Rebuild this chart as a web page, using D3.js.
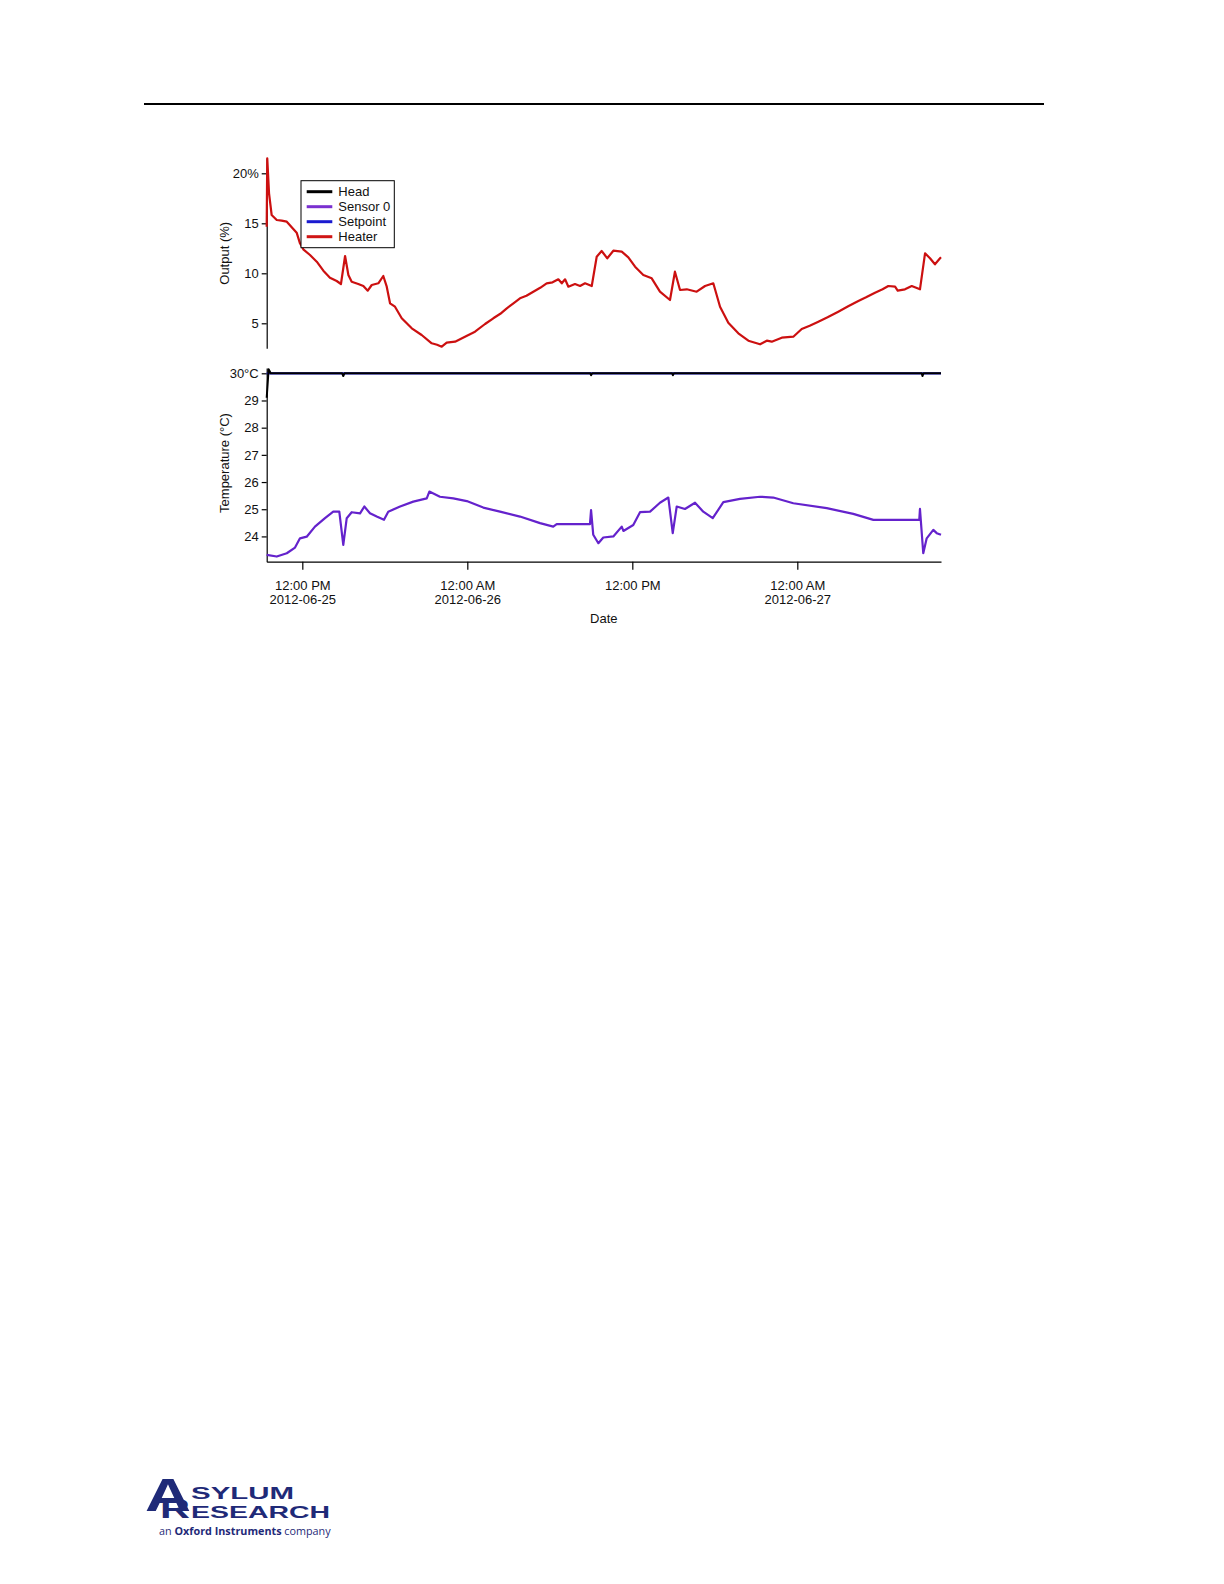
<!DOCTYPE html>
<html><head><meta charset="utf-8">
<script src="https://cdn.jsdelivr.net/npm/d3@7"></script>
<style>body{margin:0;background:#fff}svg{display:block}</style>
</head><body>
<svg id="c" width="1224" height="1584"></svg>
<script>
// time values: hours since 2012-06-25 00:00
const heaterHours=[9.41,9.45,9.58,9.77,10.14,10.50,10.87,11.23,11.59,11.83,12.07,12.56,13.05,13.53,14.01,14.50,14.81,15.11,15.35,15.59,16.07,16.44,16.76,17.05,17.53,17.89,18.14,18.38,18.74,19.23,19.96,20.68,21.41,21.80,22.14,22.50,23.11,23.83,24.56,25.29,25.89,26.40,26.87,27.40,27.83,28.30,28.80,29.30,29.77,30.20,30.62,30.87,31.11,31.35,31.83,32.20,32.56,33.05,33.41,33.77,34.18,34.62,35.23,35.71,36.20,36.80,37.41,38.01,38.74,39.10,39.47,39.96,40.68,41.29,41.89,42.38,42.98,43.71,44.44,45.29,45.78,46.14,46.87,47.71,48.32,48.90,49.53,50.20,50.98,51.70,52.44,53.00,53.65,54.20,54.62,55.11,55.30,55.83,56.32,56.92,57.29,57.65,58.01,58.38,58.45];
const heaterValues=[14.66,21.5,18.0,15.83,15.33,15.26,15.16,14.6,14.06,13.0,12.4,11.83,11.16,10.26,9.56,9.23,8.93,11.73,9.83,9.16,8.93,8.73,8.26,8.83,9.0,9.73,8.66,7.0,6.66,5.5,4.5,3.83,3.0,2.85,2.66,3.06,3.16,3.66,4.16,4.93,5.5,5.95,6.5,7.05,7.5,7.75,8.16,8.55,9.0,9.1,9.4,9.0,9.4,8.66,8.93,8.73,9.0,8.73,11.66,12.23,11.5,12.26,12.16,11.6,10.66,9.83,9.5,8.16,7.33,10.16,8.33,8.4,8.16,8.73,9.0,6.66,5.06,4.0,3.26,2.9,3.26,3.16,3.56,3.66,4.43,4.75,5.16,5.6,6.16,6.7,7.23,7.6,8.06,8.4,8.73,8.66,8.26,8.4,8.73,8.4,12.0,11.5,10.9,11.5,11.6];

const sensorHours=[9.41,10.14,10.87,11.47,11.83,12.32,12.92,13.65,14.25,14.69,14.98,15.23,15.59,16.20,16.51,16.92,17.41,17.94,18.25,19.11,20.07,21.05,21.24,22.01,22.98,23.96,25.16,26.38,27.83,29.29,30.25,30.50,32.20,32.92,33.00,33.16,33.53,33.89,34.62,35.23,35.35,36.07,36.56,37.29,38.01,38.62,38.94,39.23,39.83,40.56,41.16,41.85,42.62,43.83,45.29,46.25,47.71,50.14,52.07,53.53,54.98,56.87,56.92,57.16,57.41,57.89,58.14,58.45];
const sensorValues=[23.32,23.26,23.38,23.59,23.93,23.99,24.36,24.67,24.91,24.91,23.69,24.67,24.89,24.85,25.10,24.85,24.73,24.61,24.91,25.10,25.28,25.40,25.65,25.46,25.40,25.30,25.06,24.91,24.73,24.49,24.36,24.45,24.45,24.45,24.97,24.06,23.75,23.96,24.00,24.36,24.20,24.42,24.89,24.91,25.24,25.43,24.12,25.10,25.01,25.24,24.91,24.67,25.26,25.38,25.46,25.43,25.22,25.04,24.83,24.61,24.61,24.61,25.01,23.38,23.93,24.24,24.12,24.06];

const headHours=[9.41,9.55,9.70,14.90,14.98,15.06,32.95,33.00,33.08,38.90,38.95,39.02,57.05,57.10,57.18,58.45];
const headValues=[29.1,30.15,30.0,30.0,29.9,30.0,30.0,29.93,30.0,30.0,29.93,30.0,30.0,29.9,30.0,30.0];

const setpointHours=[9.41,58.45];
const setpointValues=[30,30];

const xTickHours=[12,24,36,48];
const outputTicks=[5,10,15,20];
const tempTicks=[24,25,26,27,28,29,30];
const legendNames=["Head","Sensor 0","Setpoint","Heater"];
const legendColors=["#000000","#7a30d0","#1a1ad0","#d01515"];

const base=new Date(2012,5,25,0,0,0);
const toDate=h=>new Date(base.getTime()+h*3600000);

const svg=d3.select("#c");
const font="'Liberation Sans', Arial, sans-serif";

// header rule
svg.append("line").attr("x1",144).attr("x2",1044).attr("y1",104).attr("y2",104)
  .attr("stroke","#000").attr("stroke-width",2);

const x=d3.scaleTime().domain([toDate(9.41),toDate(58.45)]).range([266.7,941]);
const yTop=d3.scaleLinear().domain([2.5,21.5]).range([348.3,158.3]);
const yBot=d3.scaleLinear().domain([23.07,30.195]).range([561.7,368]);

function styleAxis(g){
  g.selectAll("path.domain").attr("stroke","#000").attr("stroke-width",1.2);
  g.selectAll(".tick line").attr("stroke","#000").attr("stroke-width",1.2);
  g.selectAll("text").attr("font-family",font).attr("font-size",13).attr("fill","#111");
}

// top axis
const gTop=svg.append("g").attr("transform","translate(266.7,0)")
  .call(d3.axisLeft(yTop).tickValues(outputTicks).tickSize(5).tickSizeOuter(0).tickPadding(3)
    .tickFormat(v=>v===20?"20%":String(v)));
styleAxis(gTop);

// bottom left axis
const gBot=svg.append("g").attr("transform","translate(266.7,0)")
  .call(d3.axisLeft(yBot).tickValues(tempTicks).tickSize(5).tickSizeOuter(0).tickPadding(3)
    .tickFormat(v=>v===30?"30°C":String(v)));
styleAxis(gBot);

// x axis
const fmtTime=d3.timeFormat("%I:%M %p"), fmtDate=d3.timeFormat("%Y-%m-%d");
const gX=svg.append("g").attr("transform","translate(0,561.7)")
  .call(d3.axisBottom(x).tickValues(xTickHours.map(toDate)).tickSize(8).tickSizeOuter(0).tickPadding(8).tickFormat(""));
styleAxis(gX);
gX.selectAll(".tick").each(function(d){
  const t=d3.select(this).append("text").attr("text-anchor","middle")
    .attr("font-family",font).attr("font-size",13).attr("fill","#111");
  t.append("tspan").attr("x",0).attr("y",28).text(fmtTime(d));
  if(d.getHours()===0 || d.getDate()===25 && d.getHours()===12)
    t.append("tspan").attr("x",0).attr("y",42).text(fmtDate(d));
});

// axis titles
svg.append("text").attr("transform","translate(226,253.3) rotate(-90)").attr("text-anchor","middle")
  .attr("dominant-baseline","middle").attr("font-family",font).attr("font-size",13).attr("fill","#111").text("Output (%)");
svg.append("text").attr("transform","translate(226,463) rotate(-90)").attr("text-anchor","middle")
  .attr("dominant-baseline","middle").attr("font-family",font).attr("font-size",13).attr("fill","#111").text("Temperature (°C)");
svg.append("text").attr("x",603.8).attr("y",622.5).attr("text-anchor","middle")
  .attr("font-family",font).attr("font-size",13).attr("fill","#111").text("Date");

// lines
function series(hours,values,yScale,color,w){
  const data=hours.map((h,i)=>[toDate(h),values[i]]);
  svg.append("path").datum(data)
    .attr("d",d3.line().x(d=>x(d[0])).y(d=>yScale(d[1])))
    .attr("fill","none").attr("stroke",color).attr("stroke-width",w).attr("stroke-linejoin","round");
}
series(heaterHours,heaterValues,yTop,"#cc1010",2.2);
series(setpointHours,setpointValues,yBot,"#1a1ad0",2.2);
series(headHours,headValues,yBot,"#000000",2);
series(sensorHours,sensorValues,yBot,"#6422cc",2.2);

// legend
const lg=svg.append("g");
lg.append("rect").attr("x",301).attr("y",180.7).attr("width",93.3).attr("height",67)
  .attr("fill","#fff").attr("stroke","#000").attr("stroke-width",1);
legendNames.forEach((n,i)=>{
  const yy=191.7+i*15;
  lg.append("line").attr("x1",306.7).attr("x2",332.3).attr("y1",yy).attr("y2",yy)
    .attr("stroke",legendColors[i]).attr("stroke-width",3);
  lg.append("text").attr("x",338.3).attr("y",yy).attr("dominant-baseline","central")
    .attr("font-family",font).attr("font-size",13).attr("fill","#111").text(n);
});

// logo
const navy="#1f2a78";
const mark=svg.append("text").attr("font-family","'Liberation Sans', Arial, sans-serif")
  .attr("font-weight","bold").attr("fill",navy);
mark.append("tspan").attr("x",145).attr("y",1511).attr("font-size",47)
  .attr("textLength",46).attr("lengthAdjust","spacingAndGlyphs").text("A");
mark.append("tspan").attr("x",191).attr("y",1499).attr("font-size",16)
  .attr("textLength",103).attr("lengthAdjust","spacingAndGlyphs").text("SYLUM");
mark.append("tspan").text(" ").attr("font-size",1);
mark.append("tspan").attr("x",160).attr("y",1517.5).attr("font-size",28)
  .attr("textLength",30).attr("lengthAdjust","spacingAndGlyphs").text("R");
mark.append("tspan").attr("x",191).attr("y",1517.5).attr("font-size",16.5)
  .attr("textLength",139).attr("lengthAdjust","spacingAndGlyphs").text("ESEARCH");
const tg=svg.append("text").attr("x",159).attr("y",1535).attr("font-size",10.8).attr("fill",navy)
  .attr("font-family","'Open Sans', 'Noto Sans', sans-serif");
tg.append("tspan").text("an ");
tg.append("tspan").attr("font-weight","bold").text("Oxford Instruments");
tg.append("tspan").text(" company");
</script>
</body></html>
